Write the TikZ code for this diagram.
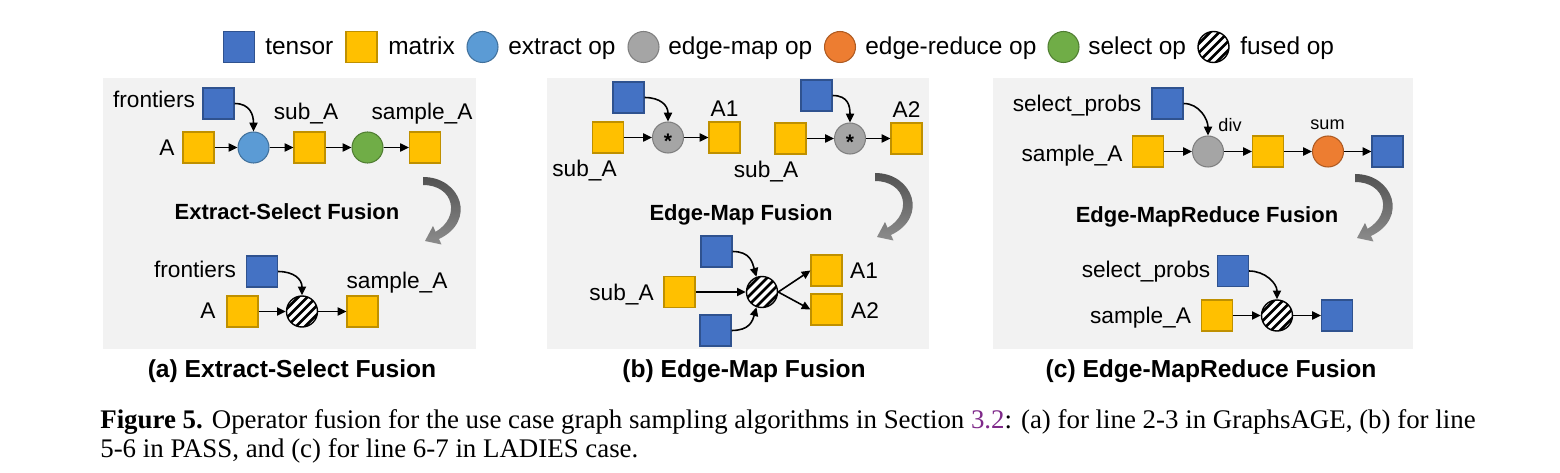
\documentclass[tikz,border=0pt]{standalone}
\usepackage{fontspec}
\setmainfont{Liberation Sans}
\newfontfamily\capserif{Liberation Serif}
\usetikzlibrary{arrows.meta,calc}
\definecolor{tblue}{HTML}{4472C4}
\definecolor{tblueb}{HTML}{2F528F}
\definecolor{myel}{HTML}{FFC000}
\definecolor{myelb}{HTML}{BF9000}
\definecolor{exblue}{HTML}{5B9BD5}
\definecolor{exblueb}{HTML}{41719C}
\definecolor{emgray}{HTML}{A5A5A5}
\definecolor{emgrayb}{HTML}{7F7F7F}
\definecolor{erorange}{HTML}{ED7D31}
\definecolor{erorangeb}{HTML}{AE5A21}
\definecolor{selgreen}{HTML}{70AD47}
\definecolor{selgreenb}{HTML}{507E32}
\definecolor{panelbg}{HTML}{F2F2F2}
\definecolor{linkpurple}{HTML}{7F2A8A}
\tikzset{
  fusearrow/.pic={\shade[top color=black!68, bottom color=black!45]
    (0,-4) .. controls (38,-4) and (54,40) .. (16,58) -- (18.5,63.5) -- (2,60)
    -- (10,45) -- (12.6,50.8) .. controls (38,36) and (31,4) .. (0,4) -- cycle;}
}
\begin{document}
\begin{tikzpicture}[x=0.02cm,y=-0.02cm,
  tensor/.style={rectangle, draw=tblueb, fill=tblue, line width=0.6pt, minimum size=0.62cm, inner sep=0pt},
  matrixbox/.style={rectangle, draw=myelb, fill=myel, line width=0.6pt, minimum size=0.62cm, inner sep=0pt},
  opnode/.style={circle, line width=0.6pt, minimum size=0.62cm, inner sep=0pt},
  extractop/.style={opnode, draw=exblueb, fill=exblue},
  edgemapop/.style={opnode, draw=emgrayb, fill=emgray},
  edgereduceop/.style={opnode, draw=erorangeb, fill=erorange},
  selectop/.style={opnode, draw=selgreenb, fill=selgreen},
  fusedop/.style={opnode, draw=black, fill=white, line width=0.8pt,
    path picture={\foreach \k in {-5,...,5}{\draw[line width=1.5pt]
      ($(path picture bounding box.center)+(\k*9-25,25)$) -- ++(50,-50);}}},
  lbl/.style={font=\fontsize{12.9}{15}\selectfont, inner sep=0pt, anchor=base},
  leg/.style={font=\fontsize{13.9}{16}\selectfont, inner sep=0pt, anchor=base west},
  smalllbl/.style={font=\fontsize{10.3}{12}\selectfont, inner sep=0pt, anchor=base},
  starlbl/.style={font=\bfseries\fontsize{12}{14}\selectfont, inner sep=0pt},
  fusetitle/.style={font=\bfseries\fontsize{12.5}{15}\selectfont, inner sep=0pt, anchor=base},
  subcap/.style={font=\bfseries\fontsize{14}{17}\selectfont, inner sep=0pt, anchor=base},
  capt/.style={font=\capserif\fontsize{15.3}{18}\selectfont, inner sep=0pt, anchor=base west},
  conn/.style={-{Triangle[length=5pt,width=4.6pt]}, line width=0.9pt},
]
\useasboundingbox (0,0) rectangle (1560,473);
\fill[white] (0,0) rectangle (1560,473);

% legend
\node[tensor] (lt) at (239,47) {};
\node[leg] (ltt) at (265,55) {tensor};
\node[matrixbox] (lm) at (361.5,47) {};
\node[leg] (lmt) at (388,55) {matrix};
\node[extractop] (le) at (482.5,47) {};
\node[leg] (let) at (508,55) {extract op};
\node[edgemapop] (lg) at (643.5,47) {};
\node[leg] (lgt) at (668,55) {edge-map op};
\node[edgereduceop] (lo) at (840,47) {};
\node[leg] (lot) at (865,55) {edge-reduce op};
\node[selectop] (ls) at (1063.5,47) {};
\node[leg] (lst) at (1088,55) {select op};
\node[fusedop] (lf) at (1213.5,47) {};
\node[leg] (lft) at (1240,55) {fused op};

% panels
\fill[panelbg] (103,78) rectangle (476,349);
\fill[panelbg] (547,78) rectangle (929,349);
\fill[panelbg] (993,78) rectangle (1413,349);

% ---------- panel (a)
\node[tensor] (aF) at (218.5,103.5) {};
\node[lbl] (aFt) at (154,108) {frontiers};
\node[matrixbox] (aA) at (198.5,147.5) {};
\node[lbl] (aAt) at (167,155) {A};
\node[extractop] (aX) at (253.5,147.5) {};
\node[matrixbox] (aS) at (309.5,147.5) {};
\node[lbl] (aSt) at (306,120) {sub\_A};
\node[selectop] (aL) at (367.5,147.5) {};
\node[matrixbox] (aP) at (425,147.5) {};
\node[lbl] (aPt) at (422,120) {sample\_A};
\draw[conn] (aF.east) .. controls +(16,0) and +(0,-16) .. (aX.north);
\draw[conn] (aA) -- (aX);
\draw[conn] (aX) -- (aS);
\draw[conn] (aS) -- (aL);
\draw[conn] (aL) -- (aP);
\pic at (423,181) {fusearrow};
\node[fusetitle] (aTitle) at (287,219) {Extract-Select Fusion};
\node[tensor] (bF) at (262,271.5) {};
\node[lbl] (bFt) at (195,277) {frontiers};
\node[matrixbox] (bA) at (242.5,311.5) {};
\node[lbl] (bAt) at (208,318) {A};
\node[fusedop] (bX) at (302,311.5) {};
\node[matrixbox] (bP) at (362.5,311.5) {};
\node[lbl] (bPt) at (397,288) {sample\_A};
\draw[conn] (bF.east) .. controls +(16,0) and +(0,-16) .. (bX.north);
\draw[conn] (bA) -- (bX);
\draw[conn] (bX) -- (bP);

% ---------- panel (b)
\node[tensor] (c1T) at (628.5,97.5) {};
\node[matrixbox] (c1S) at (608,137.5) {};
\node[lbl] (c1St) at (584.5,176) {sub\_A};
\node[edgemapop] (c1G) at (668,137.5) {};
\node[starlbl] (c1Gs) at (668,141.5) {*};
\node[matrixbox] (c1A) at (724.5,137.5) {};
\node[lbl] (c1At) at (724.5,117) {A1};
\draw[conn] (c1T.east) .. controls +(16,0) and +(0,-16) .. (c1G.north);
\draw[conn] (c1S) -- (c1G);
\draw[conn] (c1G) -- (c1A);
\node[tensor] (c2T) at (816.5,95.5) {};
\node[matrixbox] (c2S) at (790.5,138.5) {};
\node[lbl] (c2St) at (766,177) {sub\_A};
\node[edgemapop] (c2G) at (850,138.5) {};
\node[starlbl] (c2Gs) at (850,142.5) {*};
\node[matrixbox] (c2A) at (906.5,138.5) {};
\node[lbl] (c2At) at (906.5,118) {A2};
\draw[conn] (c2T.east) .. controls +(16,0) and +(0,-16) .. (c2G.north);
\draw[conn] (c2S) -- (c2G);
\draw[conn] (c2G) -- (c2A);
\pic at (875,177) {fusearrow};
\node[fusetitle] (bTitle) at (741,220) {Edge-Map Fusion};
\node[tensor] (dT) at (716.5,251.5) {};
\node[matrixbox] (dS) at (679.5,292) {};
\node[lbl] (dSt) at (621.5,300) {sub\_A};
\node[tensor] (dB) at (715.5,330.5) {};
\node[fusedop] (dX) at (762,292) {};
\node[matrixbox] (dA1) at (826.5,270.5) {};
\node[lbl] (dA1t) at (864,278) {A1};
\node[matrixbox] (dA2) at (826.5,309.5) {};
\node[lbl] (dA2t) at (865,318) {A2};
\draw[conn] (dT.east) .. controls +(18,0) and +(-4,-14) .. (dX.110);
\draw[conn] (dB.east) .. controls +(18,0) and +(-4,14) .. (dX.250);
\draw[conn] (dS) -- (dX);
\draw[conn] (dX.east) -- (dA1.west);
\draw[conn] (dX.east) -- (dA2.west);

% ---------- panel (c)
\node[tensor] (eP) at (1167.5,103.5) {};
\node[lbl] (ePt) at (1077,112) {select\_probs};
\node[matrixbox] (eS) at (1148,151.5) {};
\node[lbl] (eSt) at (1072,162) {sample\_A};
\node[edgemapop] (eD) at (1208,151.5) {};
\node[smalllbl] (eDt) at (1230,132) {div};
\node[matrixbox] (eM) at (1268,151.5) {};
\node[edgereduceop] (eR) at (1328,151.5) {};
\node[smalllbl] (eRt) at (1327.5,130) {sum};
\node[tensor] (eO) at (1387.5,151.5) {};
\draw[conn] (eP.east) .. controls +(16,0) and +(0,-16) .. (eD.north);
\draw[conn] (eS) -- (eD);
\draw[conn] (eD) -- (eM);
\draw[conn] (eM) -- (eR);
\draw[conn] (eR) -- (eO);
\pic at (1355,178) {fusearrow};
\node[fusetitle] (cTitle) at (1207,222) {Edge-MapReduce Fusion};
\node[tensor] (fP) at (1233,271) {};
\node[lbl] (fPt) at (1146,277) {select\_probs};
\node[matrixbox] (fS) at (1217,315.5) {};
\node[lbl] (fSt) at (1140.5,323) {sample\_A};
\node[fusedop] (fX) at (1277,315.5) {};
\node[tensor] (fO) at (1337,315.5) {};
\draw[conn] (fP.east) .. controls +(16,0) and +(0,-16) .. (fX.north);
\draw[conn] (fS) -- (fX);
\draw[conn] (fX) -- (fO);

% sub captions
\node[subcap] (capA) at (292,377) {(a) Extract-Select Fusion};
\node[subcap] (capB) at (744,377) {(b) Edge-Map Fusion};
\node[subcap] (capC) at (1211,377) {(c) Edge-MapReduce Fusion};

% figure caption
\node[capt] (fig1) at (100,428) {\textbf{Figure 5.} Operator fusion for the use case graph sampling algorithms in Section \textcolor{linkpurple}{3.2}: (a) for line 2-3 in GraphsAGE, (b) for line};
\node[capt] (fig2) at (100,457) {5-6 in PASS, and (c) for line 6-7 in LADIES case.};
\end{tikzpicture}
\end{document}
